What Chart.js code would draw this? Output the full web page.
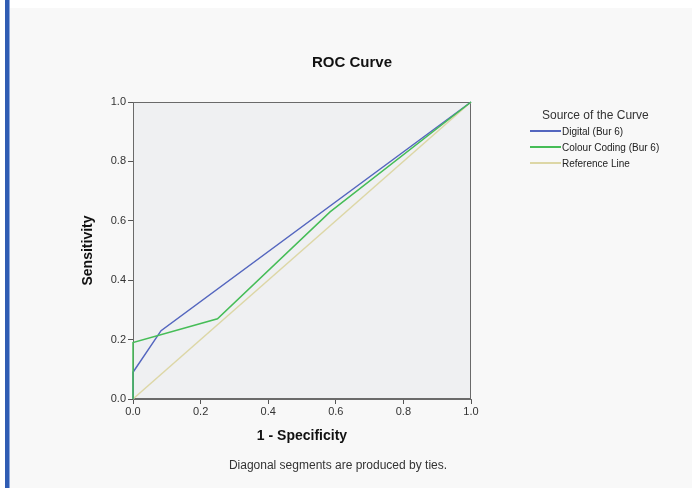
<!DOCTYPE html>
<html lang="en">
<head>
  <meta charset="UTF-8">
  <title>ROC Curve</title>
  <script src="https://cdn.jsdelivr.net/npm/chart.js"></script>
  <style>
    body {
      margin: 0;
      padding: 0;
      font-family: "Liberation Sans", Arial, sans-serif;
      background: #ffffff;
    }
    .page {
      position: relative;
      width: 692px;
      height: 488px;
      overflow: hidden;
      background: #ffffff;
    }
    .panel {
      position: absolute;
      left: 10px;
      top: 8px;
      right: 0;
      bottom: 0;
      background: #f8f8f8;
    }
    .edge {
      position: absolute;
      left: 5px;
      top: 0;
      width: 4px;
      height: 488px;
      background: #2f5cb3;
      border-right: 1px solid #8fa9dc;
    }
    canvas {
      position: absolute;
      left: 0;
      top: 0;
    }
    .title {
      position: absolute;
      left: 252px;
      width: 200px;
      top: 53px;
      text-align: center;
      font-weight: bold;
      font-size: 15px;
      color: #111;
    }
    .note {
      position: absolute;
      left: 188px;
      width: 300px;
      top: 458px;
      text-align: center;
      font-size: 12px;
      color: #333;
    }
    .legend {
      position: absolute;
      left: 530px;
      top: 108px;
      font-size: 10px;
      color: #222;
    }
    .legend .head {
      font-size: 12px;
      color: #333;
      margin-left: 12px;
      margin-bottom: 1px;
    }
    .legend .row {
      display: flex;
      align-items: center;
      height: 16px;
    }
    .legend .sample {
      display: inline-block;
      width: 31px;
      height: 2px;
      margin-right: 1px;
    }
  </style>
</head>
<body>
  <div class="page">
    <div class="panel"></div>
    <div class="edge"></div>
    <canvas id="roc" width="692" height="488"></canvas>
    <div class="title">ROC Curve</div>
    <div class="legend" id="legend">
      <div class="head">Source of the Curve</div>
    </div>
    <div class="note">Diagonal segments are produced by ties.</div>
  </div>

  <script>
    // ROC points: [1 - specificity, sensitivity]
    const seriesNames = ['Digital (Bur 6)', 'Colour Coding (Bur 6)', 'Reference Line'];
    const digitalX = [0, 0, 0.083, 1];
    const digitalY = [0, 0.09, 0.23, 1];
    const colourX = [0, 0, 0.25, 0.583, 1];
    const colourY = [0, 0.19, 0.27, 0.63, 1];
    const refX = [0, 1];
    const refY = [0, 1];
    const tickValues = [0, 0.2, 0.4, 0.6, 0.8, 1.0];
    const lineColours = ['#5466bf', '#46bd57', '#ddd7a6'];

    const toPoints = (xs, ys) => xs.map((x, i) => ({ x: x, y: ys[i] }));

    // grey plot box with a frame, drawn under the curves
    const plotFrame = {
      id: 'plotFrame',
      beforeDatasetsDraw(chart) {
        const a = chart.chartArea;
        const c = chart.ctx;
        c.save();
        c.fillStyle = '#eff0f2';
        c.fillRect(a.left, a.top, a.right - a.left, a.bottom - a.top);
        c.strokeStyle = '#6a6a6a';
        c.lineWidth = 1;
        c.strokeRect(a.left + 0.5, a.top + 0.5, a.right - a.left - 1, a.bottom - a.top - 1);
        c.restore();
      }
    };

    const tickFont = { family: '"Liberation Sans", Arial, sans-serif', size: 11 };
    const titleFont = { family: '"Liberation Sans", Arial, sans-serif', size: 14, weight: 'bold' };

    new Chart(document.getElementById('roc'), {
      type: 'scatter',
      data: {
        datasets: [
          { label: seriesNames[0], data: toPoints(digitalX, digitalY), borderColor: lineColours[0], order: 2 },
          { label: seriesNames[1], data: toPoints(colourX, colourY), borderColor: lineColours[1], order: 1 },
          { label: seriesNames[2], data: toPoints(refX, refY), borderColor: lineColours[2], order: 3 }
        ].map(d => Object.assign(d, {
          showLine: true,
          borderWidth: 1.5,
          pointRadius: 0,
          pointHoverRadius: 0,
          tension: 0,
          clip: 3
        }))
      },
      options: {
        responsive: false,
        animation: false,
        layout: {
          padding: { left: 76, top: 102, right: 221, bottom: 39 }
        },
        plugins: {
          legend: { display: false },
          tooltip: { enabled: false }
        },
        scales: {
          x: {
            type: 'linear',
            min: 0,
            max: 1,
            afterBuildTicks: (scale) => { scale.ticks = tickValues.map(v => ({ value: v })); },
            afterFit: (scale) => { scale.height = 50; },
            ticks: {
              callback: (v) => v.toFixed(1),
              font: tickFont,
              color: '#333',
              padding: 1,
              maxRotation: 0
            },
            grid: { drawOnChartArea: false, drawTicks: true, tickLength: 5, color: '#555' },
            border: { color: '#6a6a6a' },
            title: { display: true, text: '1 - Specificity', font: titleFont, color: '#111' }
          },
          y: {
            type: 'linear',
            min: 0,
            max: 1,
            afterBuildTicks: (scale) => { scale.ticks = tickValues.map(v => ({ value: v })); },
            afterFit: (scale) => { scale.width = 57; },
            ticks: {
              callback: (v) => v.toFixed(1),
              font: tickFont,
              color: '#333',
              padding: 2
            },
            grid: { drawOnChartArea: false, drawTicks: true, tickLength: 5, color: '#555' },
            border: { color: '#6a6a6a' },
            title: { display: true, text: 'Sensitivity', font: titleFont, color: '#111' }
          }
        }
      },
      plugins: [plotFrame]
    });

    // legend in the right margin
    const legend = document.getElementById('legend');
    seriesNames.forEach((name, i) => {
      const row = document.createElement('div');
      row.className = 'row';
      const s = document.createElement('span');
      s.className = 'sample';
      s.style.background = lineColours[i];
      const t = document.createElement('span');
      t.textContent = name;
      row.appendChild(s);
      row.appendChild(t);
      legend.appendChild(row);
    });
  </script>
</body>
</html>
